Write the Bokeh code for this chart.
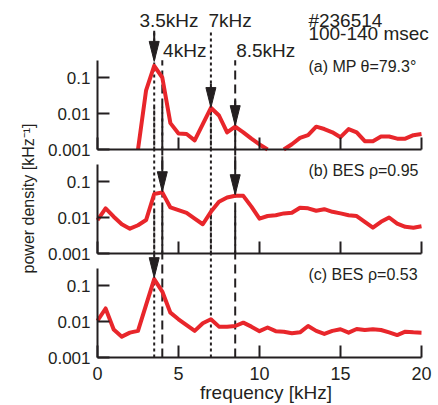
import math
from bokeh.plotting import figure
from bokeh.models import (Range1d, FixedTicker, CustomJSTickFormatter, LogScale,
                          LogAxis, LinearAxis)
from bokeh.core.properties import value
from bokeh.embed import file_html
from bokeh.resources import INLINE

nan = float("nan")

# ---------------- data ----------------
freq = [0.0, 0.5, 1.0, 1.5, 2.0, 2.5, 3.0, 3.5, 4.0, 4.5,
        5.0, 5.5, 6.0, 6.5, 7.0, 7.5, 8.0, 8.5, 9.0, 9.5,
        10.0, 10.5, 11.0, 11.5, 12.0, 12.5, 13.0, 13.5, 14.0, 14.5,
        15.0, 15.5, 16.0, 16.5, 17.0, 17.5, 18.0, 18.5, 19.0, 19.5, 20.0]

# (a) MP: points below 0.001 are off the panel (not drawn)
mp_a = [nan, nan, nan, nan, nan, 0.001, 0.044, 0.21, 0.10, 0.0054,
        0.0028, 0.0027, 0.0018, 0.0051, 0.0144, 0.0088, 0.0030, 0.0043, 0.0030, 0.0020,
        0.00138, 0.001, nan, 0.001, 0.0014, 0.0021, 0.0025, 0.0043, 0.0037, 0.0030,
        0.0022, 0.0037, 0.0030, 0.0017, 0.0017, 0.0023, 0.0023, 0.0020, 0.0020, 0.0025, 0.0027]

bes_b = [0.0085, 0.018, 0.0105, 0.0065, 0.0049, 0.0061, 0.0085, 0.045, 0.050, 0.019,
         0.016, 0.0135, 0.0093, 0.0065, 0.0144, 0.0275, 0.036, 0.040, 0.040, 0.020,
         0.0093, 0.011, 0.0116, 0.013, 0.0135, 0.0187, 0.018, 0.0154, 0.017, 0.0144,
         0.013, 0.0116, 0.011, 0.0076, 0.0052, 0.0076, 0.010, 0.0068, 0.0055, 0.0052, 0.0057]

bes_c = [0.0105, 0.023, 0.006, 0.0038, 0.0049, 0.0055, 0.029, 0.15, 0.068, 0.0176,
         0.0115, 0.0079, 0.0055, 0.0089, 0.0115, 0.0072, 0.0072, 0.0075, 0.0093, 0.0072,
         0.0054, 0.0068, 0.0054, 0.0052, 0.0047, 0.005, 0.0075, 0.0055, 0.0045, 0.0055,
         0.0061, 0.0049, 0.0062, 0.0058, 0.0061, 0.0058, 0.005, 0.0042, 0.0052, 0.005, 0.0049]

xtick_vals = [0, 5, 10, 15, 20]
ytick_vals = [0.001, 0.01, 0.1]

dotted_freqs = [3.5, 7.0]          # dotted marker lines
dashed_freqs = [4.0, 8.5]          # dashed marker lines
dotted_labels = ["3.5kHz", "7kHz"]
dashed_labels = ["4kHz", "8.5kHz"]

# arrows: frequency, tip value, shaft-top value for each panel
arrow_a_f = [3.5, 7.0, 8.5]
arrow_a_tip = [0.28, 0.0146, 0.0046]
arrow_a_top = [2.0, 0.068, 0.023]
arrow_b_f = [4.0, 8.5]
arrow_b_tip = [0.052, 0.043]
arrow_b_top = [0.5, 0.5]
arrow_c_f = [3.5]
arrow_c_tip = [0.165]
arrow_c_top = [0.7]

panel_labels = ["(a) MP \u03b8=79.3\u00b0", "(b) BES \u03c1=0.95", "(c) BES \u03c1=0.53"]
shot_label = "#236514"
time_label = "100-140 msec"
xlabel = "frequency [kHz]"
ylabel = "power density [kHz\u207b\u00b9]"

# ---------------- layout / style ----------------
FONT = "Liberation Sans"
RED = "#e8262b"
INK = "#231f20"
W, H = 438, 405
DEC = 36.0                 # pixels per decade
PXK = 16.2                 # pixels per kHz
X0_PX = 97                 # pixel position of 0 kHz
HEAD_W = 5.0 / PXK         # arrow head half width (kHz)
HEAD_L = 10 ** (20.0 / DEC)  # arrow head length factor
# pixel height of each panel's 0.001 line above the bottom of the canvas
PANEL_BASE = {"a": 256, "b": 152, "c": 48}


def panel_range(base):
    return Range1d(10 ** (-3 - base / DEC), 10 ** (-3 + (H - base) / DEC))


p = figure(output_backend="svg", toolbar_location=None, width=W, height=H,
           x_range=Range1d(-X0_PX / PXK, (W - X0_PX) / PXK),
           y_range=Range1d(0, H), x_axis_location=None, y_axis_location=None,
           min_border_left=0, min_border_right=0, min_border_top=0,
           min_border_bottom=0,
           extra_y_ranges={k: panel_range(b) for k, b in PANEL_BASE.items()},
           extra_y_scales={k: LogScale() for k in PANEL_BASE})
p.outline_line_color = None
p.grid.visible = False
p.background_fill_color = "white"
p.border_fill_color = "white"


def style_axis(ax):
    ax.axis_line_width = 2
    ax.axis_line_color = INK
    ax.major_tick_in = 12
    ax.major_tick_out = 0
    ax.major_tick_line_width = 2
    ax.major_tick_line_color = INK
    ax.minor_tick_in = 12
    ax.minor_tick_out = 0
    ax.minor_tick_line_width = 2
    ax.minor_tick_line_color = INK
    ax.major_label_text_font = FONT
    ax.major_label_text_color = INK


# per-panel log axes, pinned to x = 0
for k in PANEL_BASE:
    ax = LogAxis(y_range_name=k, fixed_location=0, bounds=(0.001, 0.3),
                 ticker=FixedTicker(ticks=ytick_vals, minor_ticks=[]),
                 formatter=CustomJSTickFormatter(code="return String(tick)"))
    style_axis(ax)
    ax.major_label_text_font_size = "17px"
    ax.major_label_standoff = 7
    p.add_layout(ax, "left")

# bottom axes: ticks only for (a) and (b), labelled for (c)
for k in ("a", "b"):
    ax = LinearAxis(fixed_location=PANEL_BASE[k], bounds=(0, 20),
                    ticker=FixedTicker(ticks=[], minor_ticks=xtick_vals))
    style_axis(ax)
    p.add_layout(ax, "below")

xc = LinearAxis(fixed_location=PANEL_BASE["c"], bounds=(0, 20),
                ticker=FixedTicker(ticks=xtick_vals, minor_ticks=[]))
style_axis(xc)
xc.major_label_text_font_size = "18px"
xc.major_label_standoff = 9
p.add_layout(xc, "below")

# vertical marker lines through all panels
p.segment(x0=dotted_freqs, y0=[1e-3] * 2, x1=dotted_freqs, y1=[2.0] * 2,
          y_range_name="a", line_color=INK, line_width=2, line_dash="3 3")
p.segment(x0=dashed_freqs, y0=[1e-3] * 2, x1=dashed_freqs, y1=[0.3] * 2,
          y_range_name="a", line_color=INK, line_width=2, line_dash="9 5")
for k in ("b", "c"):
    p.segment(x0=dotted_freqs, y0=[1e-3] * 2, x1=dotted_freqs, y1=[12.0] * 2,
              y_range_name=k, line_color=INK, line_width=2, line_dash="3 3")
    p.segment(x0=dashed_freqs, y0=[1e-3] * 2, x1=dashed_freqs, y1=[12.0] * 2,
              y_range_name=k, line_color=INK, line_width=2, line_dash="9 5")

# spectra
for k, ys in (("a", mp_a), ("b", bes_b), ("c", bes_c)):
    p.line(freq, ys, y_range_name=k, line_color=RED, line_width=4, line_join="round")


def arrows(k, fs, tips, tops):
    p.segment(x0=fs, y0=[t * HEAD_L for t in tips], x1=fs, y1=tops,
              y_range_name=k, line_color=INK, line_width=2)
    xs = [[f - HEAD_W, f, f + HEAD_W] for f in fs]
    ys = [[t * HEAD_L, t, t * HEAD_L] for t in tips]
    p.patches(xs, ys, y_range_name=k, fill_color=INK, line_color=INK, line_width=1)


arrows("a", arrow_a_f, arrow_a_tip, arrow_a_top)
arrows("b", arrow_b_f, arrow_b_tip, arrow_b_top)
arrows("c", arrow_c_f, arrow_c_tip, arrow_c_top)


def txt(k, x, y, s, size, angle=0.0, align="left"):
    kw = {"y_range_name": k} if k else {}
    p.text(x=[x], y=[y], text=[s], text_font=value(FONT), angle=angle,
           text_font_size=size, text_align=align, text_baseline="middle",
           text_color=INK, **kw)


txt("a", 2.59, 3.83, dotted_labels[0], "19px")
txt("a", 6.85, 3.83, dotted_labels[1], "19px")
txt("a", 4.05, 0.56, dashed_labels[0], "19px")
txt("a", 8.56, 0.56, dashed_labels[1], "19px")
txt("a", 13.02, 3.95, shot_label, "19px")
txt("a", 13.02, 1.67, time_label, "19px")
txt("a", 13.02, 0.2, panel_labels[0], "16px")
txt("b", 13.02, 0.2, panel_labels[1], "16px")
txt("c", 13.02, 0.2, panel_labels[2], "16px")
# axis titles
txt(None, (27.5 - X0_PX) / PXK, H - 198, ylabel, "16px",
    angle=math.pi / 2, align="center")
txt(None, (265.5 - X0_PX) / PXK, H - 392, xlabel, "19px", align="center")

open("out.html", "w").write(file_html(p, INLINE))
